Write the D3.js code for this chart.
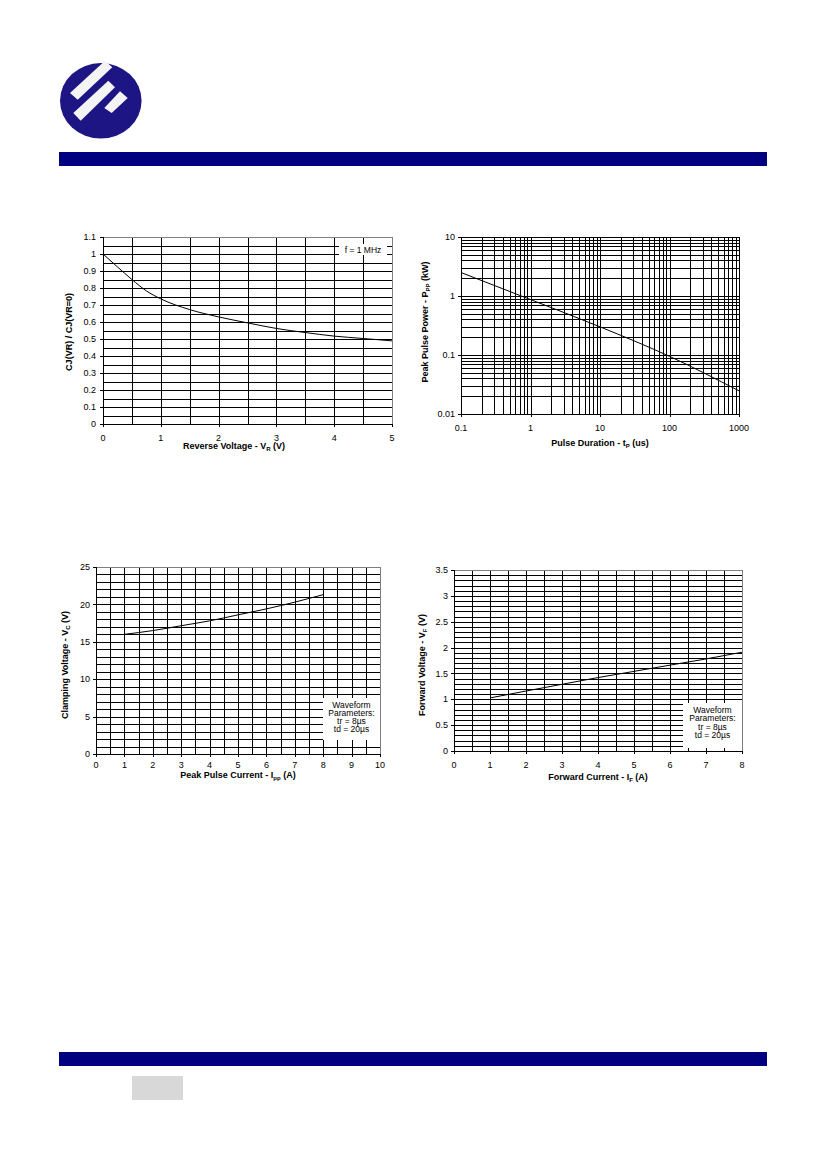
<!DOCTYPE html>
<html><head><meta charset="utf-8">
<script src="https://cdn.jsdelivr.net/npm/d3@7/dist/d3.min.js"></script>
<style>
html,body{margin:0;padding:0;background:#fff;}
svg{display:block;font-family:"Liberation Sans",Arial,sans-serif;}
</style></head>
<body>
<script>
// ---------- DATA ----------
const capVr = [0,0.25,0.5,0.75,1,1.5,2,2.5,3,3.5,4,4.5,5];
const capRatio = [1,0.924,0.85,0.783,0.736,0.673,0.63,0.595,0.562,0.538,0.517,0.503,0.489];
const capXTicks = [0,1,2,3,4,5];
const capYTicks = [0,0.1,0.2,0.3,0.4,0.5,0.6,0.7,0.8,0.9,1,1.1];

const pulseTp = [0.1,1,10,100,1000];
const pulsePpp = [2.5,0.87,0.30,0.095,0.0247];
const pulseXTicks = [0.1,1,10,100,1000];
const pulseYTicks = [0.01,0.1,1,10];

const clampIpp = [1,2,3,4,5,6,7,8];
const clampVc = [16.0,16.5,17.15,17.8,18.6,19.4,20.3,21.3];
const clampXTicks = [0,1,2,3,4,5,6,7,8,9,10];
const clampYTicks = [0,5,10,15,20,25];

const fwdIf = [1,2,3,4,5,6,7,8];
const fwdVf = [1.026,1.16,1.29,1.42,1.54,1.66,1.78,1.91];
const fwdXTicks = [0,1,2,3,4,5,6,7,8];
const fwdYTicks = [0,0.5,1,1.5,2,2.5,3,3.5];

const waveformLines = ["Waveform","Parameters:","tr = 8µs","td = 20µs"];

// ---------- PAGE ----------
const W = 827, H = 1169;
const svg = d3.select("body").append("svg").attr("width",W).attr("height",H);

// logo
const logo = svg.append("g");
logo.append("ellipse").attr("cx",100.8).attr("cy",100.8).attr("rx",40.8).attr("ry",37.8).attr("fill","#1e1585");
const stripes = [
  [[70,93],[105,60.7],[112.3,67.3],[77.7,99.7]],
  [[73.3,113],[108.3,80.7],[115,87.3],[80.7,120.7]],
  [[104.3,108],[120,91.3],[127.7,98],[111.7,113]]
];
stripes.forEach(s=>{
  logo.append("polygon").attr("points",s.map(p=>p.join(",")).join(" ")).attr("fill","#f4f4f4");
});
// bars
svg.append("rect").attr("x",59).attr("y",152).attr("width",708).attr("height",14).attr("fill","#000080");
svg.append("rect").attr("x",59).attr("y",1052).attr("width",708).attr("height",14).attr("fill","#000080");
svg.append("rect").attr("x",132).attr("y",1076).attr("width",51).attr("height",24).attr("fill","#d8d8d8");

// ---------- CHART HELPER ----------
function title(g, parts, attrs){
  const t = g.append("text").attr("font-size",9).attr("font-weight","bold").attr("fill","#000");
  Object.entries(attrs).forEach(([k,v])=>t.attr(k,v));
  let shifted = false;
  parts.forEach(p=>{
    if (typeof p === "string") {
      const ts = t.append("tspan").text(p);
      if (shifted) { ts.attr("dy",-2); shifted = false; }
    } else {
      t.append("tspan").attr("font-size",6).attr("dy",2).text(p.sub);
      shifted = true;
    }
  });
  return t;
}

function chart(cfg){
  const g = svg.append("g");
  const x = cfg.xLog ? d3.scaleLog().domain(cfg.xDom).range([cfg.l,cfg.r])
                     : d3.scaleLinear().domain(cfg.xDom).range([cfg.l,cfg.r]);
  const y = cfg.yLog ? d3.scaleLog().domain(cfg.yDom).range([cfg.b,cfg.t])
                     : d3.scaleLinear().domain(cfg.yDom).range([cfg.b,cfg.t]);
  const xg = cfg.xLog ? x.ticks() : d3.range(cfg.xDom[0], cfg.xDom[1]+1e-9, cfg.xGrid);
  const yg = cfg.yLog ? y.ticks() : d3.range(cfg.yDom[0], cfg.yDom[1]+1e-9, cfg.yGrid);
  // grid
  g.selectAll(".vg").data(xg).join("line")
    .attr("x1",d=>Math.round(x(d))+0.5).attr("x2",d=>Math.round(x(d))+0.5)
    .attr("y1",cfg.t).attr("y2",cfg.b).attr("stroke","#000").attr("stroke-width",1);
  g.selectAll(".hg").data(yg).join("line")
    .attr("y1",d=>Math.round(y(d))+0.5).attr("y2",d=>Math.round(y(d))+0.5)
    .attr("x1",cfg.l).attr("x2",cfg.r).attr("stroke","#000").attr("stroke-width",1);
  // border
  g.append("rect").attr("x",cfg.l+0.5).attr("y",cfg.t+0.5).attr("width",cfg.r-cfg.l).attr("height",cfg.b-cfg.t)
    .attr("fill","none").attr("stroke",cfg.borderColor).attr("stroke-width",1);
  // axes lines
  g.append("line").attr("x1",cfg.l+0.5).attr("x2",cfg.l+0.5).attr("y1",cfg.t).attr("y2",cfg.b+0.5).attr("stroke","#000");
  g.append("line").attr("x1",cfg.l).attr("x2",cfg.r+0.5).attr("y1",Math.round(cfg.b)+0.5).attr("y2",Math.round(cfg.b)+0.5).attr("stroke","#000");
  // ticks
  g.selectAll(".yt").data(cfg.yTicks).join("line")
    .attr("x1",cfg.l-3).attr("x2",cfg.l).attr("y1",d=>Math.round(y(d))+0.5).attr("y2",d=>Math.round(y(d))+0.5).attr("stroke","#000");
  g.selectAll(".xt").data(cfg.xTicks).join("line")
    .attr("y1",cfg.b).attr("y2",cfg.b+3).attr("x1",d=>Math.round(x(d))+0.5).attr("x2",d=>Math.round(x(d))+0.5).attr("stroke","#000");
  // tick labels
  g.selectAll(".yl").data(cfg.yTicks).join("text")
    .attr("x",cfg.yLabelX).attr("y",d=>y(d)+3.2).attr("text-anchor","end").attr("font-size",9).text(d=>cfg.fmt(d));
  g.selectAll(".xl").data(cfg.xTicks).join("text")
    .attr("x",d=>x(d)).attr("y",cfg.xLabelY).attr("text-anchor","middle").attr("font-size",9).text(d=>cfg.fmt(d));
  // box
  if (cfg.box){
    const bx = cfg.box;
    g.append("rect").attr("x",bx.x).attr("y",bx.y).attr("width",bx.w).attr("height",bx.h).attr("fill","#fff");
    bx.lines.forEach((s,i)=>{
      g.append("text").attr("x",bx.x+bx.w/2).attr("y",bx.y+bx.first+i*bx.step)
        .attr("text-anchor","middle").attr("font-size",8.5).text(s);
    });
  }
  // curve
  const pts = cfg.xs.map((v,i)=>[x(v),y(cfg.ys[i])]);
  g.append("path").attr("d",d3.line().curve(d3.curveMonotoneX)(pts))
    .attr("fill","none").attr("stroke","#000").attr("stroke-width",1);
  // titles
  title(g, cfg.xTitle, {x:cfg.xTitlePos[0], y:cfg.xTitlePos[1], "text-anchor":"middle"});
  title(g, cfg.yTitle, {transform:`translate(${cfg.yTitlePos[0]},${cfg.yTitlePos[1]}) rotate(-90)`, "text-anchor":"middle"});
}

const fmt = d=>String(+d.toFixed(3));

chart({l:103,r:392,t:237,b:424,xDom:[0,5],yDom:[0,1.1],xGrid:0.5,yGrid:0.05,
  xTicks:capXTicks,yTicks:capYTicks,fmt,yLabelX:96,xLabelY:441,borderColor:"#808080",
  xs:capVr,ys:capRatio,
  box:{x:339,y:244,w:48,h:11,first:8.6,step:0,lines:["f = 1 MHz"]},
  xTitle:["Reverse Voltage - V",{sub:"R"}," (V)"],xTitlePos:[234,449],
  yTitle:["CJ(VR) / CJ(VR=0)"],yTitlePos:[72,332]});

chart({l:461,r:739,t:237,b:414,xLog:true,yLog:true,xDom:[0.1,1000],yDom:[0.01,10],
  xTicks:pulseXTicks,yTicks:pulseYTicks,fmt,yLabelX:455,xLabelY:431,borderColor:"#000",
  xs:pulseTp,ys:pulsePpp,
  xTitle:["Pulse Duration - t",{sub:"P"}," (us)"],xTitlePos:[600,446],
  yTitle:["Peak Pulse  Power - P",{sub:"PP"}," (kW)"],yTitlePos:[428,322]});

chart({l:96,r:380,t:567,b:754,xDom:[0,10],yDom:[0,25],xGrid:0.5,yGrid:1,
  xTicks:clampXTicks,yTicks:clampYTicks,fmt,yLabelX:90,xLabelY:768,borderColor:"#808080",
  xs:clampIpp,ys:clampVc,
  box:{x:323,y:698,w:57,h:42,first:9.5,step:8.2,lines:waveformLines},
  xTitle:["Peak Pulse Current - I",{sub:"pp"}," (A)"],xTitlePos:[238,778],
  yTitle:["Clamping Voltage - V",{sub:"C"}," (V)"],yTitlePos:[68,665]});

chart({l:454,r:742,t:570,b:751,xDom:[0,8],yDom:[0,3.5],xGrid:0.5,yGrid:0.1,
  xTicks:fwdXTicks,yTicks:fwdYTicks,fmt,yLabelX:448,xLabelY:768,borderColor:"#808080",
  xs:fwdIf,ys:fwdVf,
  box:{x:683,y:703,w:59,h:45,first:10,step:8.3,lines:waveformLines},
  xTitle:["Forward Current - I",{sub:"F"}," (A)"],xTitlePos:[598,780],
  yTitle:["Forward Voltage - V",{sub:"F"}," (V)"],yTitlePos:[425,665]});
</script>
</body></html>
